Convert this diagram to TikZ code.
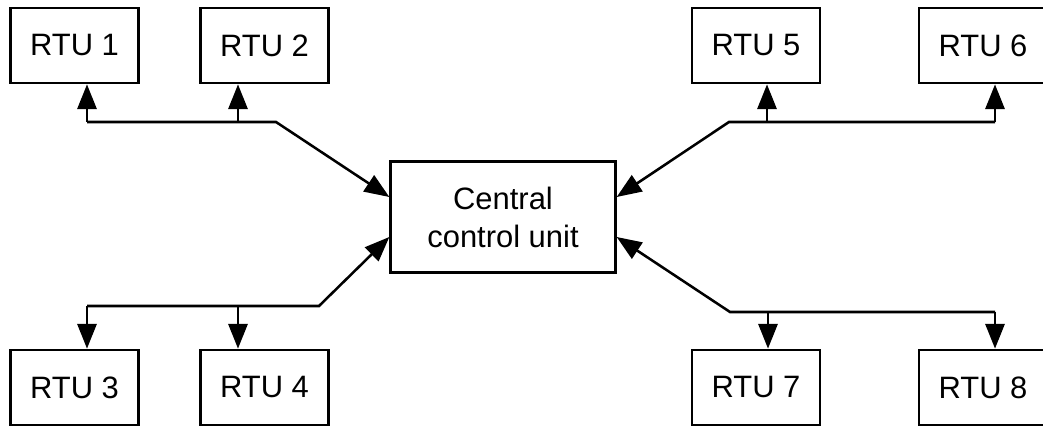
\documentclass[tikz,border=0pt]{standalone}
\usepackage{fontspec}
\setmainfont{Liberation Sans}
\usetikzlibrary{arrows.meta}

\begin{document}
\begin{tikzpicture}[every text node part/.style={align=center},
    every node/.style={font=\fontsize{22}{27}\selectfont},
    rtu/.style={draw, line width=1.8pt, minimum width=3.2cm, minimum height=1.88cm},
    link/.style={line width=1.8pt, -{Triangle[length=0.62cm,width=0.48cm]}}]
      \clip (0,0) rectangle (26.075,10.625);

      \node[rtu] (rtuA)  at (1.8625,9.4875) {RTU 1};
      \node[rtu] (rtuB)  at (6.6125,9.4875) {RTU 2};
      \node[rtu] (rtuE)  at (18.9,9.4875)   {RTU 5};
      \node[rtu] (rtuF)  at (24.575,9.4875) {RTU 6};

      \node[rtu, minimum width=5.62cm, minimum height=2.78cm] (ccu) at (12.575,5.2) {Central\\control unit};

      \node[rtu] (rtuC)  at (1.8625,0.9375) {RTU 3};
      \node[rtu] (rtuD)  at (6.6125,0.9375) {RTU 4};
      \node[rtu] (rtuG)  at (18.9,0.9375)   {RTU 7};
      \node[rtu] (rtuH)  at (24.575,0.9375) {RTU 8};

      % bus taps and bends
      \coordinate (tapA) at (2.175,7.575);
      \coordinate (tapB) at (5.95,7.575);
      \coordinate (bendAB) at (6.9,7.575);
      \coordinate (tapE) at (19.175,7.575);
      \coordinate (tapF) at (24.875,7.575);
      \coordinate (bendEF) at (18.225,7.575);

      \coordinate (tapC) at (2.175,2.975);
      \coordinate (tapD) at (5.95,2.975);
      \coordinate (bendCD) at (7.975,2.975);
      \coordinate (tapG) at (19.2,2.825);
      \coordinate (tapH) at (24.875,2.825);
      \coordinate (bendGH) at (18.25,2.825);

      \draw [link] (tapA) -- (bendAB) -- ([yshift=0.5cm]ccu.west);
      \draw [link] (tapA) -- (tapA |- rtuA.south);
      \draw [link] (tapB) -- (tapB |- rtuB.south);

      \draw [link] (tapF) -- (bendEF) -- ([yshift=0.5cm]ccu.east);
      \draw [link] (tapE) -- (tapE |- rtuE.south);
      \draw [link] (tapF) -- (tapF |- rtuF.south);

      \draw [link] (tapC) -- (bendCD) -- ([yshift=-0.5cm]ccu.west);
      \draw [link] (tapC) -- (tapC |- rtuC.north);
      \draw [link] (tapD) -- (tapD |- rtuD.north);

      \draw [link] (tapH) -- (bendGH) -- ([yshift=-0.5cm]ccu.east);
      \draw [link] (tapG) -- (tapG |- rtuG.north);
      \draw [link] (tapH) -- (tapH |- rtuH.north);
    \end{tikzpicture}
\end{document}
